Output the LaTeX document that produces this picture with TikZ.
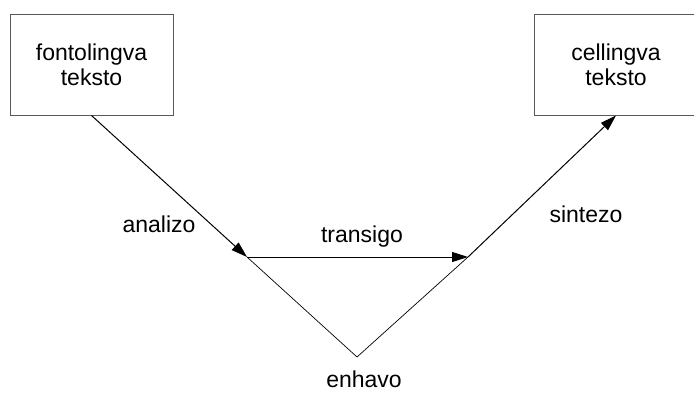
\documentclass[tikz,border=0pt]{standalone}
\usepackage{fontspec}
\setmainfont{Liberation Sans}
\usetikzlibrary{arrows.meta}
\tikzstyle{arrow} = [line width=1pt,-{Triangle[length=16pt,width=10pt]}]

\begin{document}
\begin{tikzpicture}
        [
            x=1pt,y=-1pt,
            box/.style={rectangle,draw=black!65,line width=1pt,minimum width=163pt,minimum height=101pt,align=center,font=\fontsize{23}{25}\selectfont},
            lbl/.style={anchor=base,inner sep=0pt,font=\fontsize{23}{25}\selectfont},
            thin line/.style={line width=0.7pt},
        ]
    \useasboundingbox (0,0) rectangle (694,394);

    \node[box] (src) at (91.5,64.5){fontolingva\\teksto};
    \node[box] (tgt) at (616,64.5){cellingva\\teksto};

    \coordinate (ana) at (247,257);
    \coordinate (syn) at (468,257);
    \coordinate (sem) at (357,357);

    \draw[arrow] (src.south) -- (ana);
    \draw[arrow] (ana) -- (syn);
    \draw[arrow] (syn) -- (tgt.south);
    \draw[thin line] (ana) -- (sem) -- (syn);

    \node[lbl] (analizo) at (159,232){analizo};
    \node[lbl] (transigo) at (362,242){transigo};
    \node[lbl] (sintezo) at (586,222){sintezo};
    \node[lbl] (enhavo) at (364,387){enhavo};
\end{tikzpicture}
\end{document}
